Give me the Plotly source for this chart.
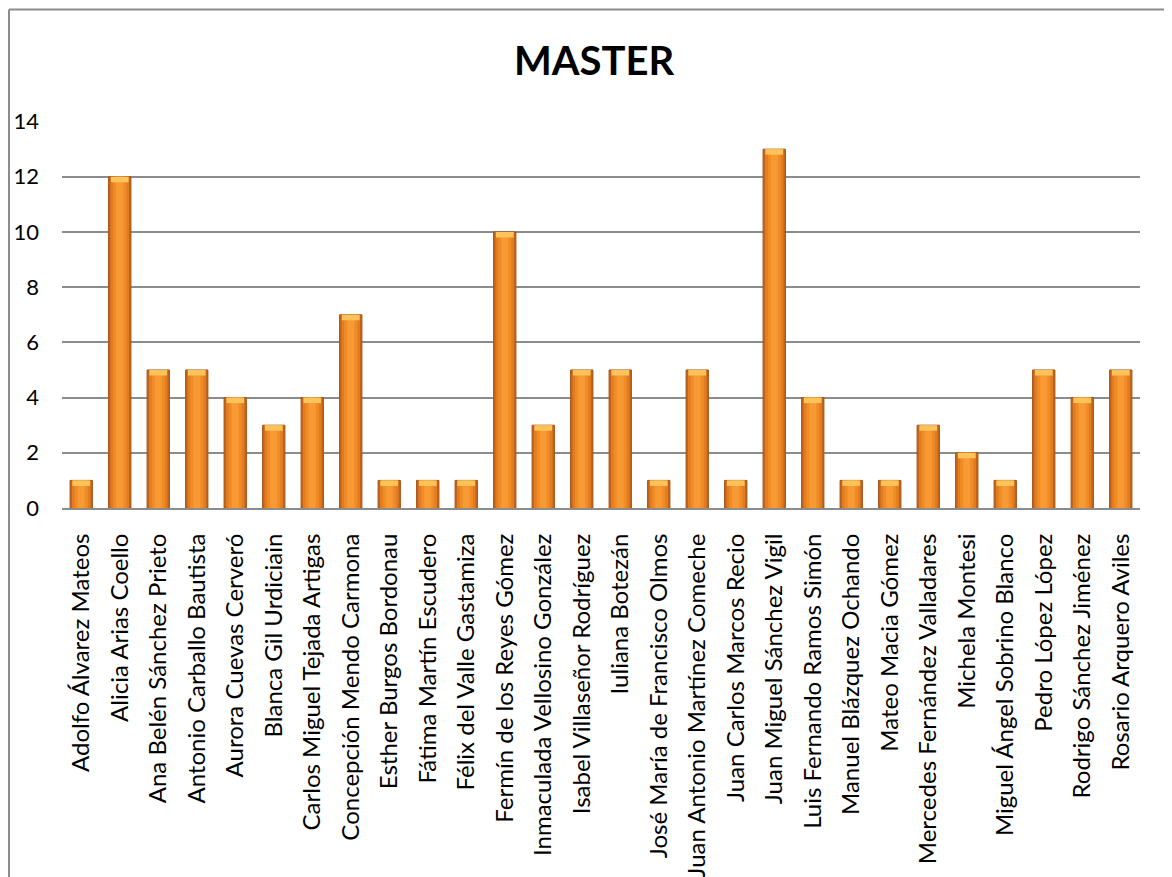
import plotly.graph_objects as go

names = [
    "Adolfo Álvarez Mateos", "Alicia Arias Coello", "Ana Belén Sánchez Prieto",
    "Antonio Carballo Bautista", "Aurora Cuevas Cerveró", "Blanca Gil Urdiciain",
    "Carlos Miguel Tejada Artigas", "Concepción Mendo Carmona", "Esther Burgos Bordonau",
    "Fátima Martín Escudero", "Félix del Valle Gastamiza", "Fermín de los Reyes Gómez",
    "Inmaculada Vellosino González", "Isabel Villaseñor Rodríguez", "Iuliana Botezán",
    "José María de Francisco Olmos", "Juan Antonio Martínez Comeche", "Juan Carlos Marcos Recio",
    "Juan Miguel Sánchez Vigil", "Luis Fernando Ramos Simón", "Manuel Blázquez Ochando",
    "Mateo Macia Gómez", "Mercedes Fernández Valladares", "Michela Montesi",
    "Miguel Ángel Sobrino Blanco", "Pedro López López", "Rodrigo Sánchez Jiménez",
    "Rosario Arquero Aviles",
]
values = [1, 12, 5, 5, 4, 3, 4, 7, 1, 1, 1, 10, 3, 5, 5, 1, 5, 1, 13, 4, 1, 1, 3, 2, 1, 5, 4, 5]
y_ticks = [0, 2, 4, 6, 8, 10, 12, 14]
title_text = "MASTER"

W, H = 1172, 877
OFF = 8  # page body margin offset
# desired on-screen plot area
SX0, SX1, SY0, SY1 = 62, 1140, 121, 508
L = SX0 - OFF
T = SY0 - OFF
R = W - (SX1 - OFF)
B = H - (SY1 - OFF)
pw, ph = SX1 - SX0, SY1 - SY0

def px(sx):
    return (sx - SX0) / pw

def py(sy):
    return (SY1 - sy) / ph

FONT = "Lato"

fig = go.Figure()
layers = [(0.58, "#C4641A", "#A5541A"), (0.48, "#E27C20", None), (0.34, "#F08C27", None), (0.18, "#F89A33", None)]
for w, col, line in layers:
    fig.add_trace(go.Bar(
        x=names, y=values, width=w,
        marker=dict(color=col, line=dict(color=line or col, width=1 if line else 0)),
        hoverinfo="x+y", showlegend=False,
    ))
cap = 0.2
fig.add_trace(go.Bar(
    x=names, y=[cap] * len(values), base=[v - cap for v in values], width=0.46,
    marker=dict(color="#FBC35A", line=dict(width=0)), hoverinfo="skip", showlegend=False,
))

fig.update_layout(
    width=W, height=H,
    margin=dict(l=L, r=R, t=T, b=B, autoexpand=False),
    barmode="overlay",
    paper_bgcolor="white", plot_bgcolor="white",
    font=dict(family=FONT, color="black"),
    title=dict(text="<b>" + title_text + "</b>", font=dict(family=FONT, size=40, color="black"),
               x=px(594), xref="paper", xanchor="center",
               y=1 - (61 - OFF) / H, yanchor="middle"),
    xaxis=dict(
        tickangle=-90, tickfont=dict(family=FONT, size=24, color="black"),
        showgrid=False, showline=True, linecolor="#8C8C8C", linewidth=2,
        ticks="", ticklabelstandoff=14, range=[-0.5, len(names) - 0.5],
    ),
    yaxis=dict(
        range=[0, 14.02], tickvals=y_ticks, tickfont=dict(family=FONT, size=22, color="black"),
        showgrid=True, gridcolor="#8C8C8C", gridwidth=2,
        zeroline=False, showline=False, ticks="", ticklabelstandoff=22,
    ),
    shapes=[
        dict(type="line", xref="paper", yref="paper",
             x0=px(OFF + 1), x1=px(OFF + 1), y0=py(9.5), y1=py(H + 30),
             line=dict(color="#8C8C8C", width=2)),
        dict(type="line", xref="paper", yref="paper",
             x0=px(OFF + 1), x1=px(W + 30), y0=py(9.5), y1=py(9.5),
             line=dict(color="#8C8C8C", width=2)),
    ],
)

fig.write_html("out.html")
